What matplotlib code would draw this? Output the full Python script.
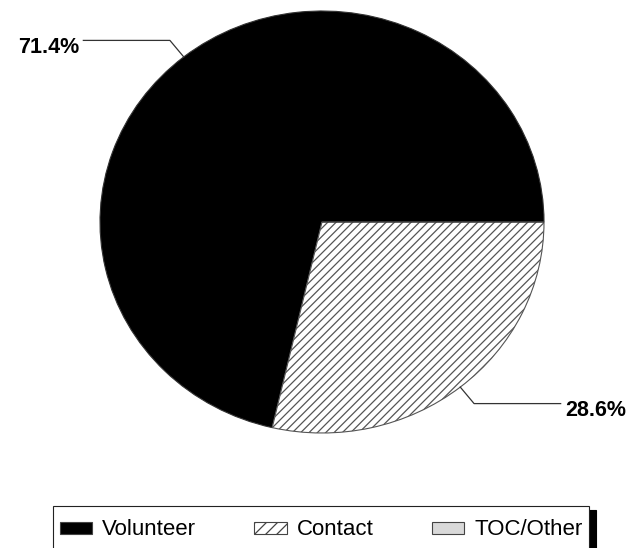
import numpy as np
import matplotlib
matplotlib.use("Agg")
import matplotlib.pyplot as plt
from matplotlib.patches import Patch, Rectangle
from matplotlib.legend_handler import HandlerPatch

plt.rcParams['font.family'] = ['Liberation Sans', 'DejaVu Sans']
plt.rcParams['hatch.linewidth'] = 0.9

# Data
categories = ['Volunteer', 'Contact', 'TOC/Other']
shares = [71.4, 28.6, 0.0]
labels = ['71.4%', '28.6%', '']
colors = ['black', 'white', '#d9d9d9']
hatches = [None, '////', None]

fig = plt.figure(figsize=(6.36, 5.48), dpi=100)
# axes placed so the (slightly oval) pie fills it
ax = fig.add_axes([100 / 636, 115 / 548, 444 / 636, 422 / 548])

wedges, _ = ax.pie(shares, startangle=0, counterclock=True, colors=colors,
                   wedgeprops=dict(edgecolor='#333333', linewidth=0.8))
for w, h in zip(wedges, hatches):
    if h:
        w.set_hatch(h)
        w.set_edgecolor('#555555')
ax.set_aspect('auto')
ax.set_xlim(-1, 1)
ax.set_ylim(-1, 1)

# leader lines + percentage labels
for w, lab in zip(wedges, labels):
    if not lab:
        continue
    ang = np.deg2rad((w.theta1 + w.theta2) / 2)
    x0, y0 = np.cos(ang), np.sin(ang)
    xe, ye = 1.1 * x0, 1.1 * y0
    side = np.sign(x0)
    xend = 1.075 * side
    ax.plot([x0, xe, xend], [y0, ye, ye], color='#333333', lw=0.9, clip_on=False)
    ax.text(xend + 0.02 * side, ye - 0.035, lab, ha='left' if side > 0 else 'right',
            va='center', fontsize=15.5, fontweight='bold', clip_on=False)


def short_rect(legend, orig_handle, xdescent, ydescent, width, height, fontsize):
    # keep the legend row tall but the swatch flat
    h = 0.55 * fontsize
    return Rectangle((-xdescent, -ydescent + (height - h) / 2), width, h)


handles = [Patch(facecolor=c, edgecolor='#444444', hatch=h, linewidth=0.8)
           for c, h in zip(colors, hatches)]
handles[1].set_hatch('///')
top = 1 - 506 / 548
leg = fig.legend(handles, categories, loc='upper left', ncol=3, mode='expand',
                 bbox_to_anchor=(53 / 636, top - 0.01, 536 / 636, 0.01),
                 fontsize=16, frameon=True, fancybox=False, framealpha=1,
                 edgecolor='#222222', borderpad=0.3, handlelength=1.45,
                 handleheight=1.7, handletextpad=0.45, borderaxespad=0,
                 handler_map={Patch: HandlerPatch(patch_func=short_rect)},
                 shadow={'ox': 5, 'oy': -3, 'color': 'black', 'alpha': 1})
leg.get_frame().set_linewidth(0.8)

fig.savefig('out.png', dpi=100)
